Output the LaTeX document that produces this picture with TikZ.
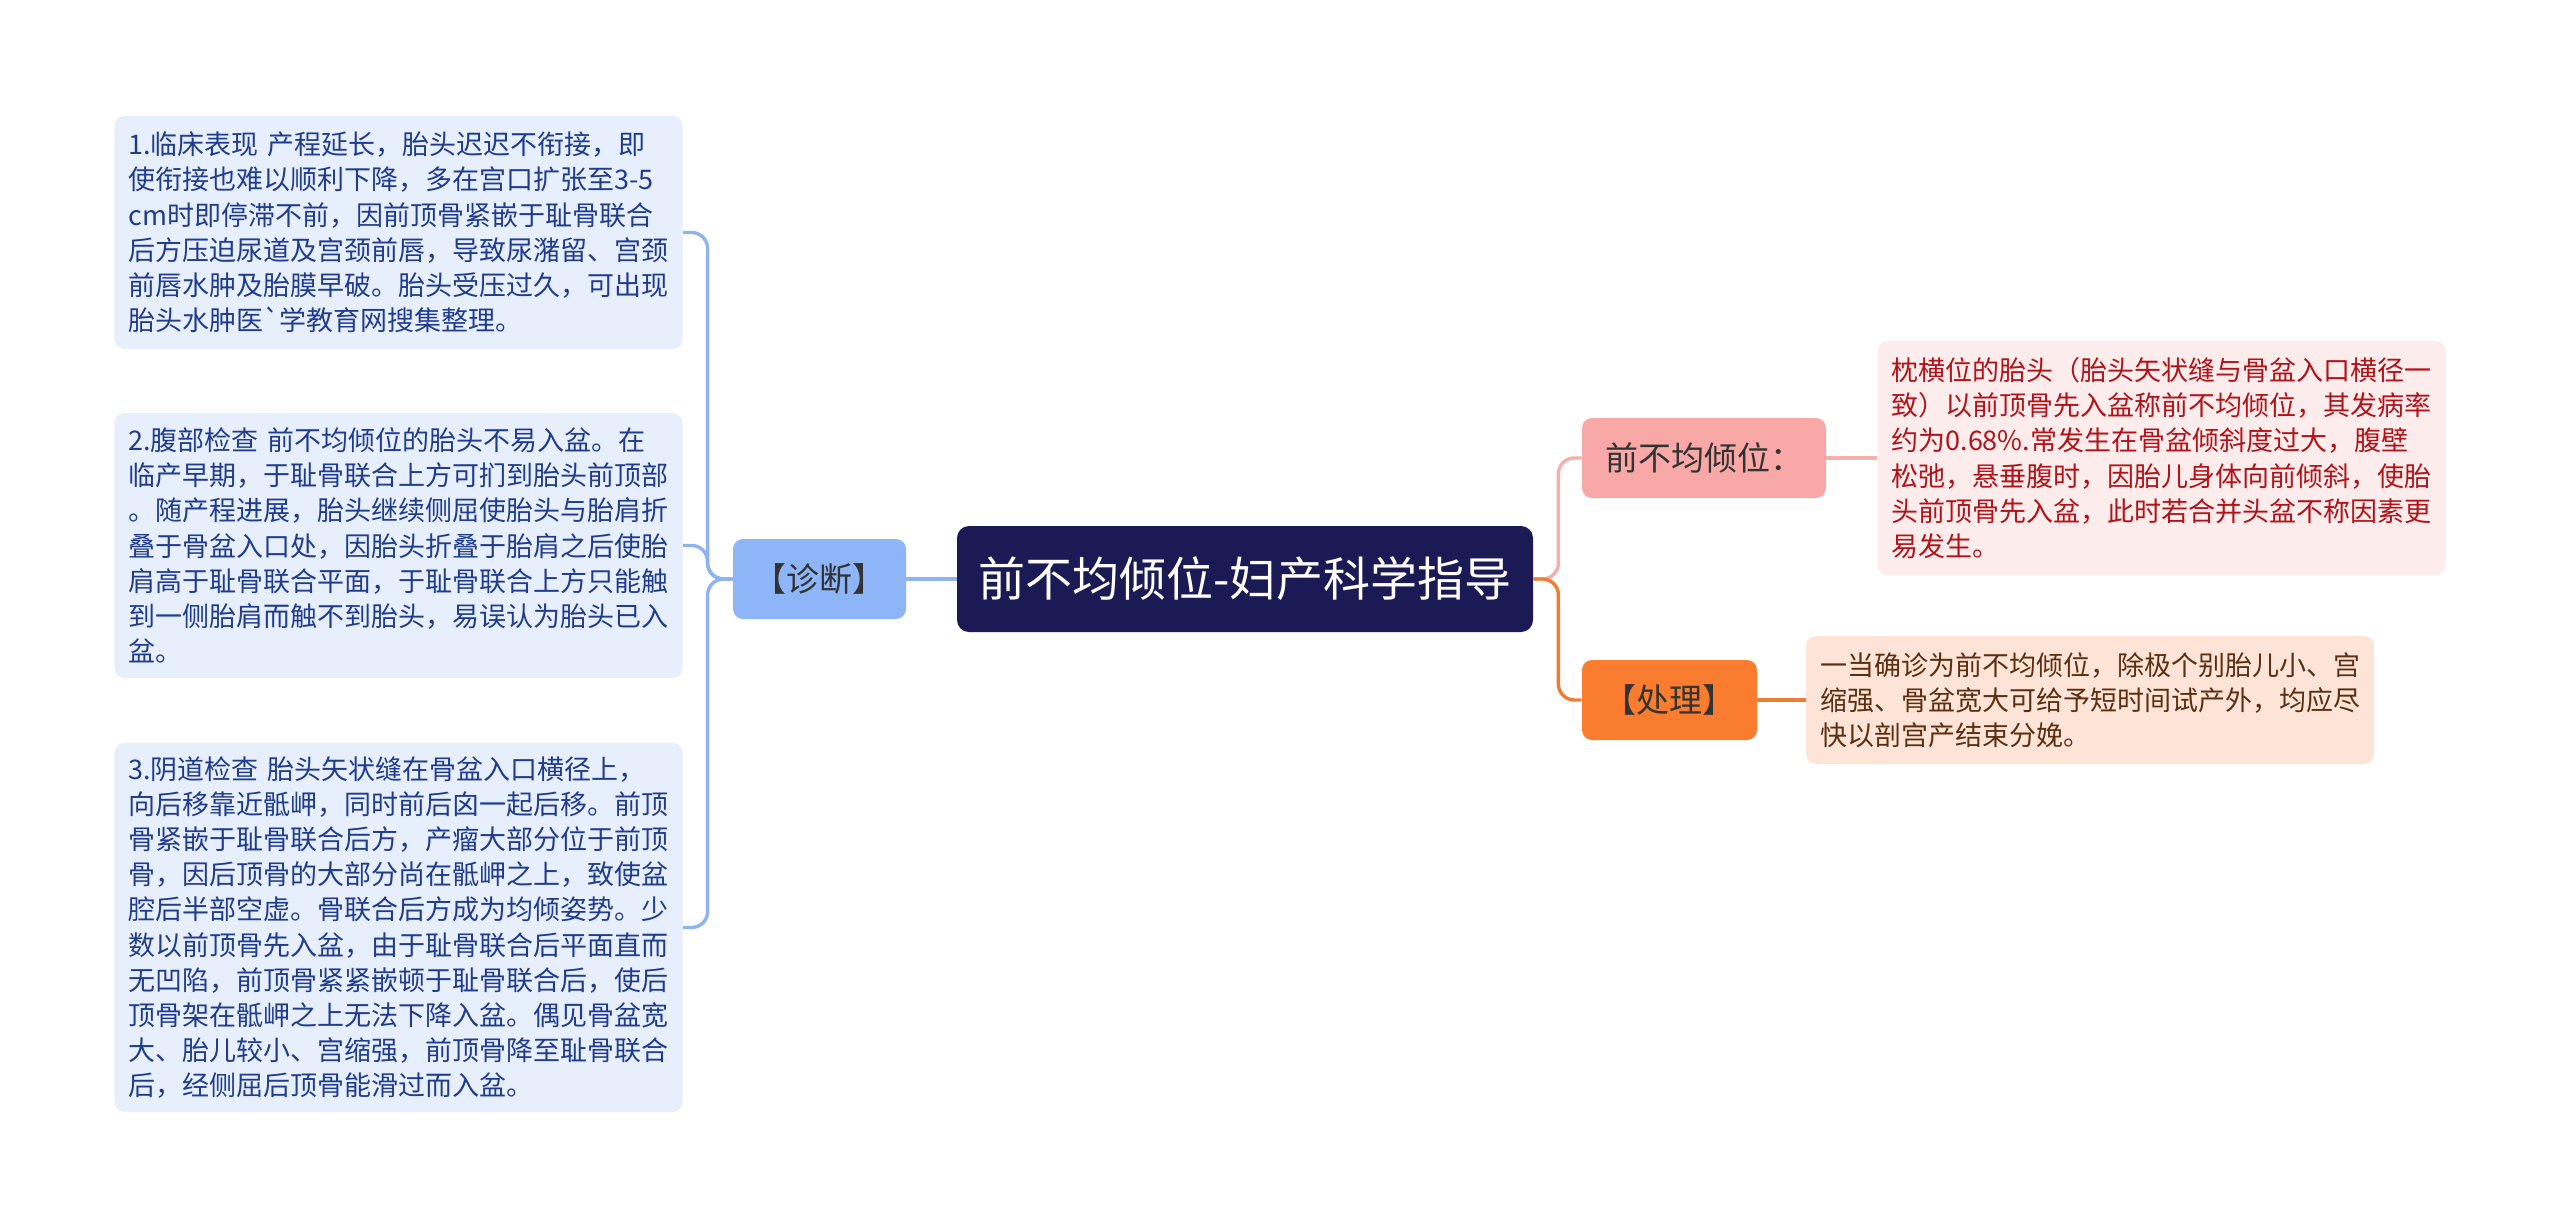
\documentclass[tikz,border=0pt]{standalone}
\usepackage{fontspec}
\newfontfamily\cjk{Noto Sans CJK SC}
\usetikzlibrary{positioning}
\definecolor{leafblue}{HTML}{E8EFFC}
\definecolor{textblue}{HTML}{1F3C8F}
\definecolor{diagblue}{HTML}{8DB5F8}
\definecolor{lineblue}{HTML}{8DB3F0}
\definecolor{rootnavy}{HTML}{1B1A55}
\definecolor{pinkfill}{HTML}{F8A8A6}
\definecolor{pinkline}{HTML}{F5B0AC}
\definecolor{redfill}{HTML}{FDECEC}
\definecolor{redtext}{HTML}{B0141A}
\definecolor{orangefill}{HTML}{F97C2F}
\definecolor{orangeline}{HTML}{EE7D35}
\definecolor{peachfill}{HTML}{FDE4D6}
\definecolor{browntext}{HTML}{5C2E12}
\definecolor{darktext}{HTML}{333333}

\begin{document}
\begin{tikzpicture}[x=0.5pt, y=-0.5pt, node distance=212.75pt,
    note/.style={rectangle, rounded corners=5pt, text width=270pt, inner xsep=7pt,
                 align=left, font=\cjk\fontsize{13.5}{17.6}\selectfont},
    topic/.style={rectangle, rounded corners=5pt, minimum height=40pt,
                  text=darktext, font=\cjk\fontsize{16.5}{20}\selectfont},
    link/.style={line width=1.7pt}]
  \useasboundingbox (0,0) rectangle (2560,1227);
  \node[rectangle, rounded corners=6pt, fill=rootnavy, text=white, minimum width=288pt,
        minimum height=53pt, font=\cjk\fontsize{23.5}{28}\selectfont] (root) at (1245,579)
        {前不均倾位-妇产科学指导};
  \node[topic, fill=diagblue, minimum width=86.5pt, left of=root] (diag) {【诊断】};
  \node[note, fill=leafblue, text=textblue, minimum height=116.5pt] (note1) at (398.5,232.5)
    {1.临床表现 产程延长，胎头迟迟不衔接，即\\
     使衔接也难以顺利下降，多在宫口扩张至3-5\\
     cm时即停滞不前，因前顶骨紧嵌于耻骨联合\\
     后方压迫尿道及宫颈前唇，导致尿潴留、宫颈\\
     前唇水肿及胎膜早破。胎头受压过久，可出现\\
     胎头水肿医`学教育网搜集整理。};
  \node[note, fill=leafblue, text=textblue, minimum height=132.5pt] (note2) at (398.5,545.5)
    {2.腹部检查 前不均倾位的胎头不易入盆。在\\
     临产早期，于耻骨联合上方可扪到胎头前顶部\\
     。随产程进展，胎头继续侧屈使胎头与胎肩折\\
     叠于骨盆入口处，因胎头折叠于胎肩之后使胎\\
     肩高于耻骨联合平面，于耻骨联合上方只能触\\
     到一侧胎肩而触不到胎头，易误认为胎头已入\\
     盆。};
  \node[note, fill=leafblue, text=textblue, minimum height=184.5pt] (note3) at (398.5,927.5)
    {3.阴道检查 胎头矢状缝在骨盆入口横径上，\\
     向后移靠近骶岬，同时前后囟一起后移。前顶\\
     骨紧嵌于耻骨联合后方，产瘤大部分位于前顶\\
     骨，因后顶骨的大部分尚在骶岬之上，致使盆\\
     腔后半部空虚。骨联合后方成为均倾姿势。少\\
     数以前顶骨先入盆，由于耻骨联合后平面直而\\
     无凹陷，前顶骨紧紧嵌顿于耻骨联合后，使后\\
     顶骨架在骶岬之上无法下降入盆。偶见骨盆宽\\
     大、胎儿较小、宫缩强，前顶骨降至耻骨联合\\
     后，经侧屈后顶骨能滑过而入盆。};
  \node[topic, fill=pinkfill, minimum width=122pt] (define) at (1704,458) {前不均倾位：};
  \node[topic, fill=orangefill, minimum width=87.5pt] (treat) at (1669.5,700) {【处理】};
  \node[note, fill=redfill, text=redtext, minimum height=117pt,
        right of=define, node distance=228.75pt] (definetext)
    {枕横位的胎头（胎头矢状缝与骨盆入口横径一\\
     致）以前顶骨先入盆称前不均倾位，其发病率\\
     约为0.68\%.常发生在骨盆倾斜度过大，腹壁\\
     松弛，悬垂腹时，因胎儿身体向前倾斜，使胎\\
     头前顶骨先入盆，此时若合并头盆不称因素更\\
     易发生。};
  \node[note, fill=peachfill, text=browntext, minimum height=64pt,
        right of=treat, node distance=210.25pt] (treattext)
    {一当确诊为前不均倾位，除极个别胎儿小、宫\\
     缩强、骨盆宽大可给予短时间试产外，均应尽\\
     快以剖宫产结束分娩。};
  % left side
  \draw[link, lineblue] (root) -- (diag);
  \draw[link, lineblue, rounded corners=8pt] (diag.west) -- ++(-25,0) |- (note1.east);
  \draw[link, lineblue, rounded corners=8pt] (diag.west) -- ++(-25,0) |- (note2.east);
  \draw[link, lineblue, rounded corners=8pt] (diag.west) -- ++(-25,0) |- (note3.east);
  % right side
  \draw[link, pinkline, rounded corners=8pt] (root.east) -- ++(25,0) |- (define.west);
  \draw[link, orangeline, rounded corners=8pt] (root.east) -- ++(25,0) |- (treat.west);
  \draw[link, pinkline] (define) -- (definetext);
  \draw[link, orangeline] (treat) -- (treattext);
\end{tikzpicture}
\end{document}
